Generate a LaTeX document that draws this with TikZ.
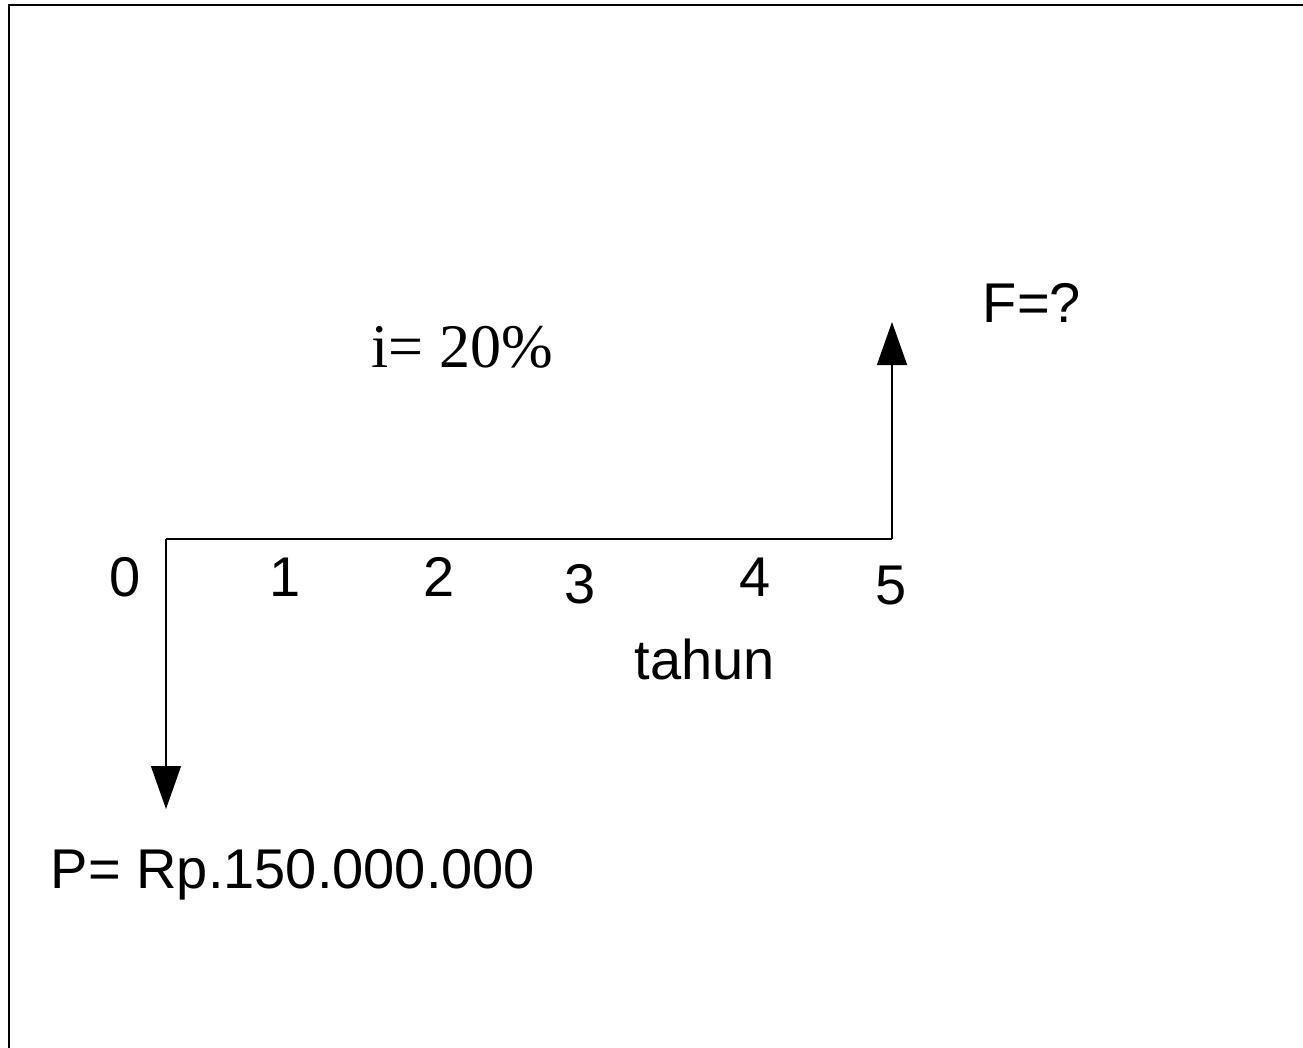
\documentclass[tikz,border=0pt]{standalone}
\usepackage{fontspec}
\setmainfont{Liberation Sans}
\newfontfamily\timesf{Liberation Serif}
\usetikzlibrary{arrows.meta}
\begin{document}
\begin{tikzpicture}[x=1pt,y=-1pt,
  lbl/.style={anchor=base,inner sep=0pt,font=\fontsize{56}{60}\selectfont},
  flow/.style={line width=1.4pt,-{Triangle[length=43pt,width=30pt]}},
  axis/.style={line width=1.4pt}]
\useasboundingbox (0,0) rectangle (1303,1048);
\draw[line width=2.5pt] (1303,5) -- (9,5) -- (9,1048);
\coordinate (o) at (166,539);
\coordinate (e) at (892,539);
\coordinate (pd) at (166,809);
\coordinate (fu) at (892,322);
\draw[axis] (o) -- (e);
\draw[flow] (o) -- (pd);
\draw[flow] (e) -- (fu);
\node[lbl] (t0) at (125,596) {0};
\node[lbl] (t1) at (285,596) {1};
\node[lbl] (t2) at (439,596) {2};
\node[lbl] (t3) at (580,603) {3};
\node[lbl] (t4) at (755,596) {4};
\node[lbl] (t5) at (891,604) {5};
\node[lbl] (th) at (705,679) {tahun};
\node[lbl] (F) at (1032,323) {F=?};
\node[lbl,font=\timesf\fontsize{62}{66}\selectfont] (i) at (462,367) {i= 20\%};
\node[lbl] (P) at (293,888) {P= Rp.150.000.000};
\end{tikzpicture}
\end{document}
